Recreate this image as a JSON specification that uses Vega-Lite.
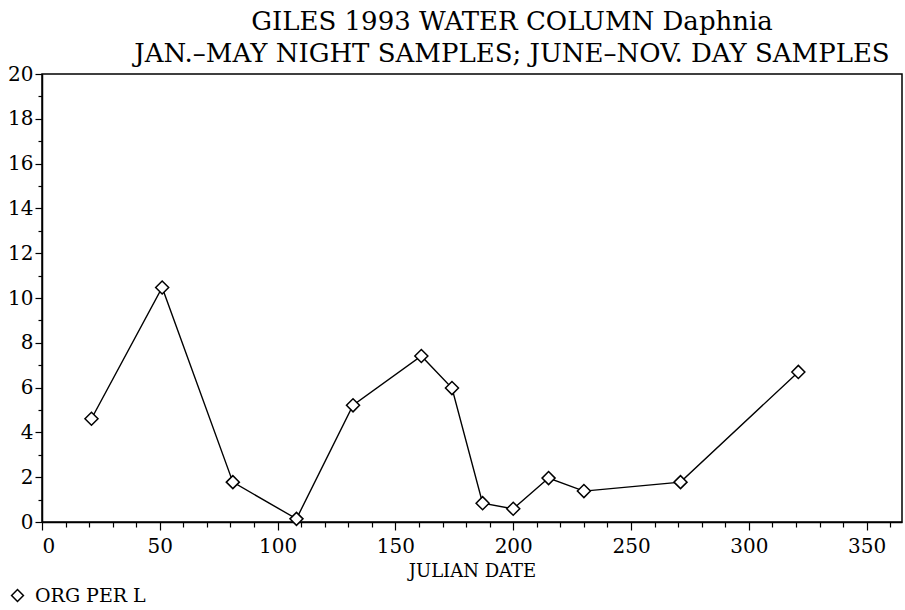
{
  "$schema": "https://vega.github.io/schema/vega-lite/v6.json",
  "width": 860,
  "height": 448,
  "autosize": "none",
  "padding": {"left": 42, "top": 74, "right": 3, "bottom": 88},
  "background": "white",
  "title": {
    "text": ["GILES 1993 WATER COLUMN Daphnia", "JAN.–MAY NIGHT SAMPLES; JUNE–NOV. DAY SAMPLES"],
    "font": "DejaVu Serif",
    "fontSize": 26,
    "fontWeight": "normal",
    "color": "black",
    "lineHeight": 32,
    "anchor": "middle",
    "dx": 40,
    "offset": -3
  },
  "config": {
    "view": {"stroke": "black", "strokeWidth": 1.5},
    "axis": {
      "domainColor": "black",
      "domainWidth": 1.5,
      "tickColor": "black",
      "tickWidth": 1.2,
      "grid": false,
      "labelFont": "DejaVu Serif",
      "labelFontSize": 20,
      "labelColor": "black",
      "titleFont": "DejaVu Serif",
      "titleFontWeight": "normal",
      "titleColor": "black"
    }
  },
  "data": {
    "values": [
      {"day": 21, "org": 4.61, "series": "ORG PER L"},
      {"day": 51, "org": 10.47, "series": "ORG PER L"},
      {"day": 81, "org": 1.78, "series": "ORG PER L"},
      {"day": 108, "org": 0.14, "series": "ORG PER L"},
      {"day": 132, "org": 5.21, "series": "ORG PER L"},
      {"day": 161, "org": 7.41, "series": "ORG PER L"},
      {"day": 174, "org": 5.98, "series": "ORG PER L"},
      {"day": 187, "org": 0.84, "series": "ORG PER L"},
      {"day": 200, "org": 0.59, "series": "ORG PER L"},
      {"day": 215, "org": 1.96, "series": "ORG PER L"},
      {"day": 230, "org": 1.38, "series": "ORG PER L"},
      {"day": 271, "org": 1.78, "series": "ORG PER L"},
      {"day": 321, "org": 6.70, "series": "ORG PER L"}
    ]
  },
  "resolve": {"axis": {"x": "independent", "y": "independent"}},
  "layer": [
    {
      "mark": {"type": "line", "color": "black", "strokeWidth": 1.4},
      "encoding": {
        "x": {
          "field": "day",
          "type": "quantitative",
          "scale": {"domain": [0, 365], "nice": false, "zero": true},
          "axis": {
            "orient": "bottom",
            "values": [10, 20, 30, 40, 60, 70, 80, 90, 110, 120, 130, 140, 160, 170, 180, 190, 210, 220, 230, 240, 260, 270, 280, 290, 310, 320, 330, 340, 360],
            "tickSize": 5,
            "labels": false,
            "domain": false,
            "title": null
          }
        },
        "y": {
          "field": "org",
          "type": "quantitative",
          "scale": {"domain": [0, 20], "nice": false},
          "axis": {
            "orient": "left",
            "values": [1, 3, 5, 7, 9, 11, 13, 15, 17, 19],
            "tickSize": 4,
            "labels": false,
            "domain": false,
            "title": null
          }
        }
      }
    },
    {
      "mark": {"type": "point", "shape": "diamond", "filled": true, "fill": "white", "stroke": "black", "strokeWidth": 1.5, "size": 170, "opacity": 1},
      "encoding": {
        "x": {
          "field": "day",
          "type": "quantitative",
          "axis": {
            "orient": "bottom",
            "values": [0, 50, 100, 150, 200, 250, 300, 350],
            "tickSize": 8,
            "labelPadding": 6,
            "title": "JULIAN DATE",
            "titleFontSize": 18,
            "titlePadding": 6,
            "format": "d"
          }
        },
        "y": {
          "field": "org",
          "type": "quantitative",
          "axis": {
            "orient": "left",
            "values": [0, 2, 4, 6, 8, 10, 12, 14, 16, 18, 20],
            "tickSize": 7,
            "labelPadding": 2,
            "title": null,
            "format": "d"
          }
        },
        "shape": {
          "field": "series",
          "type": "nominal",
          "scale": {"range": ["diamond"]},
          "legend": {
            "orient": "none",
            "legendX": -34,
            "legendY": 512,
            "title": null,
            "labelFont": "DejaVu Serif",
            "labelFontSize": 19,
            "labelColor": "black",
            "symbolSize": 140,
            "labelOffset": 8,
            "encode": {
              "symbols": {
                "update": {
                  "fill": {"value": "white"},
                  "stroke": {"value": "black"},
                  "strokeWidth": {"value": 1.3},
                  "opacity": {"value": 1}
                }
              }
            }
          }
        }
      }
    }
  ]
}
